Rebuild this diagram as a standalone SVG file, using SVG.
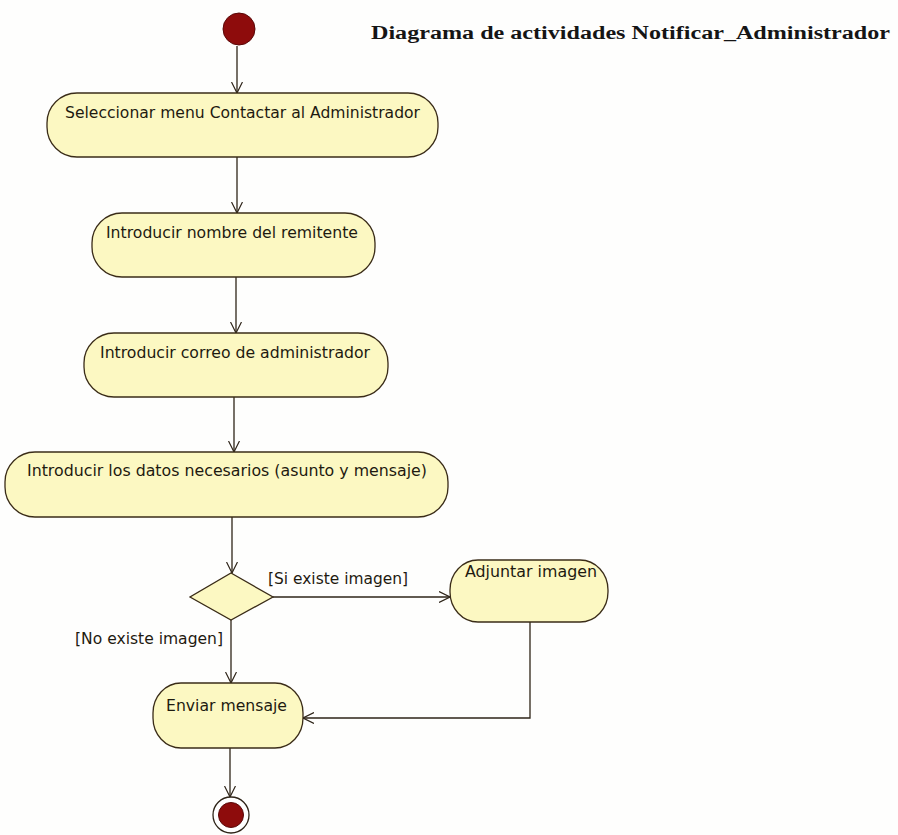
<svg xmlns="http://www.w3.org/2000/svg" width="898" height="835" viewBox="0 0 898 835">
<style>
.act{fill:#fcf8c2;stroke:#3a2c18;stroke-width:1.3}
.lbl{font-family:Tahoma,"DejaVu Sans","Liberation Sans",sans-serif;font-size:16.5px;fill:#1e1a10}
.edge{fill:none;stroke:#2e2418;stroke-width:1.3}
.title{font-family:"Liberation Serif","DejaVu Serif",serif;font-size:18px;font-weight:bold;fill:#151515}
</style>
<defs>
<marker id="arr" viewBox="0 0 12 12" refX="11" refY="6" markerWidth="12" markerHeight="12" markerUnits="userSpaceOnUse" orient="auto">
<path d="M0,0.5 L11,6 L0,11.5" fill="none" stroke="#2e2418" stroke-width="1.2"/>
</marker>
</defs>
<rect width="898" height="835" fill="#fefefd"/>
<text class="title" x="371" y="39" textLength="519" lengthAdjust="spacingAndGlyphs">Diagrama de actividades Notificar_Administrador</text>
<g id="connectors">
<path class="edge" d="M237,46 L237,93" marker-end="url(#arr)"/>
<path class="edge" d="M237,157 L237,213" marker-end="url(#arr)"/>
<path class="edge" d="M236,277 L236,333" marker-end="url(#arr)"/>
<path class="edge" d="M234,397 L234,452" marker-end="url(#arr)"/>
<path class="edge" d="M232,517 L232,573" marker-end="url(#arr)"/>
<path class="edge" d="M273,597 L450,597" marker-end="url(#arr)"/>
<path class="edge" d="M231,620 L231,683" marker-end="url(#arr)"/>
<path class="edge" d="M530,622 L530,718 L303,718" marker-end="url(#arr)"/>
<path class="edge" d="M230,748 L230,797" marker-end="url(#arr)"/>
<text class="lbl" x="268" y="584" textLength="140" lengthAdjust="spacingAndGlyphs">[Si existe imagen]</text>
<text class="lbl" x="75" y="644" textLength="148" lengthAdjust="spacingAndGlyphs">[No existe imagen]</text>
</g>
<g id="initial">
<circle cx="239" cy="29" r="16" fill="#8e0c0c" stroke="#5a0808" stroke-width="1"/>
</g>
<g id="n1">
<rect class="act" x="47" y="93" width="391" height="64" rx="30" ry="30"/>
<text class="lbl" x="65" y="118" textLength="355" lengthAdjust="spacingAndGlyphs">Seleccionar menu Contactar al Administrador</text>
</g>
<g id="n2">
<rect class="act" x="92" y="213" width="283" height="64" rx="30" ry="30"/>
<text class="lbl" x="106" y="238" textLength="252" lengthAdjust="spacingAndGlyphs">Introducir nombre del remitente</text>
</g>
<g id="n3">
<rect class="act" x="84" y="333" width="304" height="64" rx="30" ry="30"/>
<text class="lbl" x="100" y="358" textLength="270" lengthAdjust="spacingAndGlyphs">Introducir correo de administrador</text>
</g>
<g id="n4">
<rect class="act" x="5" y="452" width="443" height="65" rx="30" ry="30"/>
<text class="lbl" x="27" y="476" textLength="400" lengthAdjust="spacingAndGlyphs">Introducir los datos necesarios (asunto y mensaje)</text>
</g>
<g id="decision">
<polygon class="act" points="231,573 273,597 231,620 190,597"/>
</g>
<g id="n5">
<rect class="act" x="450" y="560" width="158" height="62" rx="28" ry="30"/>
<text class="lbl" x="465" y="577" textLength="132" lengthAdjust="spacingAndGlyphs">Adjuntar imagen</text>
</g>
<g id="n6">
<rect class="act" x="153" y="683" width="150" height="65" rx="28" ry="30"/>
<text class="lbl" x="166" y="711" textLength="121" lengthAdjust="spacingAndGlyphs">Enviar mensaje</text>
</g>
<g id="final">
<circle cx="231" cy="815" r="18" fill="#ffffff" stroke="#2e2418" stroke-width="1.3"/>
<circle cx="231" cy="815" r="12.5" fill="#8e0c0c" stroke="#5a0808" stroke-width="1"/>
</g>
</svg>
